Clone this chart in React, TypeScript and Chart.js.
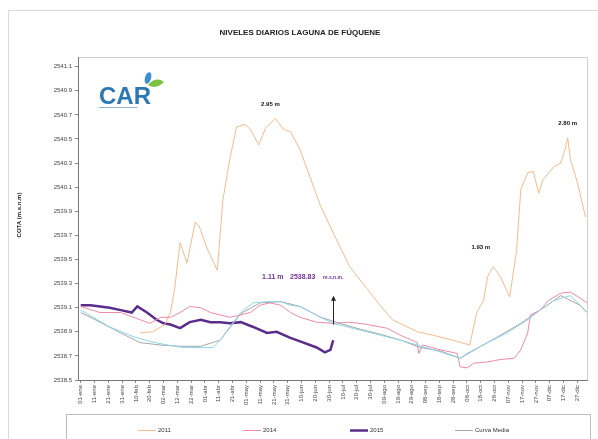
import React, { useEffect, useRef } from "react";
import { Chart, registerables } from "chart.js";

Chart.register(...registerables);

// ---- Axis data ----
const tickDays = [0, 10, 20, 30, 40, 50, 60, 70, 80, 90, 100, 110, 120, 130, 140, 150, 160, 170, 180, 190, 200, 210, 220, 230, 240, 250, 260, 270, 280, 290, 300, 310, 320, 330, 340, 350, 360];
const tickLabels = ["01-ene", "11-ene", "21-ene", "31-ene", "10-feb", "20-feb", "02-mar", "12-mar", "22-mar", "01-abr", "11-abr", "21-abr", "01-may", "11-may", "21-may", "31-may", "10-jun", "20-jun", "30-jun", "10-jul", "20-jul", "30-jul", "09-ago", "19-ago", "29-ago", "08-sep", "18-sep", "28-sep", "08-oct", "18-oct", "28-oct", "07-nov", "17-nov", "27-nov", "07-dic", "17-dic", "27-dic"];
const yTickValues = [2538.5, 2538.7, 2538.9, 2539.1, 2539.3, 2539.5, 2539.7, 2539.9, 2540.1, 2540.3, 2540.5, 2540.7, 2540.9, 2541.1];

// ---- Series ----
const dias2011 = [43, 52, 61, 65, 68, 72, 77, 83, 86, 92, 99, 103, 108, 113, 119, 123, 129, 134, 141, 147, 152, 159, 174, 183, 195, 208, 217, 226, 244, 256, 273, 282, 287, 292, 295, 299, 304, 311, 316, 319, 324, 328, 332, 335, 343, 348, 351, 353, 355, 360, 366];
const cota2011 = [2538.89, 2538.9, 2538.96, 2539.06, 2539.25, 2539.64, 2539.47, 2539.81, 2539.77, 2539.58, 2539.41, 2539.99, 2540.33, 2540.6, 2540.62, 2540.58, 2540.45, 2540.59, 2540.67, 2540.58, 2540.56, 2540.41, 2539.94, 2539.72, 2539.44, 2539.25, 2539.12, 2539.0, 2538.9, 2538.87, 2538.82, 2538.79, 2539.06, 2539.16, 2539.36, 2539.44, 2539.36, 2539.19, 2539.58, 2540.08, 2540.22, 2540.23, 2540.05, 2540.16, 2540.27, 2540.3, 2540.41, 2540.51, 2540.33, 2540.14, 2539.85];

const dias2014 = [0, 14, 29, 43, 50, 58, 65, 72, 79, 87, 94, 101, 108, 116, 123, 130, 137, 145, 152, 159, 171, 183, 195, 208, 222, 232, 244, 245, 248, 261, 273, 275, 280, 285, 295, 304, 314, 319, 324, 326, 333, 339, 348, 355, 362, 367];
const cota2014 = [2539.11, 2539.06, 2539.06, 2539.0, 2538.97, 2539.02, 2539.02, 2539.06, 2539.11, 2539.1, 2539.06, 2539.04, 2539.02, 2539.04, 2539.06, 2539.12, 2539.14, 2539.12, 2539.06, 2539.02, 2538.98, 2538.97, 2538.98, 2538.96, 2538.93, 2538.87, 2538.81, 2538.72, 2538.79, 2538.75, 2538.72, 2538.61, 2538.6, 2538.64, 2538.65, 2538.67, 2538.68, 2538.75, 2538.89, 2539.04, 2539.08, 2539.16, 2539.22, 2539.23, 2539.18, 2539.14];

const dias2015 = [0, 7, 14, 21, 29, 37, 41, 48, 55, 60, 65, 72, 79, 87, 94, 101, 108, 116, 125, 135, 142, 152, 159, 171, 177, 181, 183];
const cota2015 = [2539.12, 2539.12, 2539.11, 2539.1, 2539.08, 2539.06, 2539.11, 2539.06, 2539.0, 2538.97, 2538.96, 2538.93, 2538.98, 2539.0, 2538.98, 2538.98, 2538.97, 2538.98, 2538.94, 2538.89, 2538.9, 2538.85, 2538.82, 2538.77, 2538.73, 2538.75, 2538.83];

const diasMedia = [0, 14, 29, 43, 58, 72, 87, 101, 116, 130, 145, 159, 174, 188, 203, 217, 232, 246, 261, 275, 290, 304, 319, 333, 348, 362, 367];
const cotaMedia = [2539.06, 2538.98, 2538.89, 2538.81, 2538.79, 2538.78, 2538.78, 2538.83, 2539.05, 2539.14, 2539.15, 2539.11, 2539.02, 2538.97, 2538.92, 2538.88, 2538.83, 2538.77, 2538.74, 2538.68, 2538.78, 2538.87, 2538.97, 2539.08, 2539.2, 2539.12, 2539.06];

const diasOtro = [0, 21, 38, 50, 63, 74, 87, 96, 101, 108, 116, 125, 135, 145, 152, 159, 174, 183, 232, 256, 275, 280, 295, 309, 324, 333, 343, 355, 362, 367];
const cotaOtro = [2539.08, 2538.94, 2538.86, 2538.82, 2538.79, 2538.77, 2538.77, 2538.77, 2538.83, 2538.94, 2539.06, 2539.14, 2539.15, 2539.15, 2539.12, 2539.11, 2539.02, 2538.97, 2538.83, 2538.75, 2538.68, 2538.72, 2538.81, 2538.89, 2539.0, 2539.08, 2539.16, 2539.2, 2539.12, 2539.06];

const seriesLabels = ["2011", "2014", "2015", "Curva Media"];

// annotations (data space)
const notas = [
  { text: "2.95 m", x: 137.5, y: 2540.79 },
  { text: "1.93 m", x: 290, y: 2539.6 },
  { text: "2.80 m", x: 353, y: 2540.63 },
];
const notaActual = { nivel: "1.11 m", cota: "2538.83", unidad: "m.s.n.m.", x: 159, y: 2539.35 };
const flecha = { x: 183, y0: 2538.96, y1: 2539.2 };

const zip = (xs: number[], ys: number[]) => xs.map((x, i) => ({ x, y: ys[i] }));

const FONT = "'Liberation Sans', Arial, sans-serif";

const decorPlugin = {
  id: "decor",
  beforeDraw(chart: any) {
    const { ctx, chartArea: a } = chart;
    ctx.save();
    ctx.fillStyle = "#ffffff";
    ctx.fillRect(0, 0, chart.width, chart.height);
    ctx.strokeStyle = "#d9d9d9";
    ctx.lineWidth = 1;
    ctx.strokeRect(8.5, 10.5, 600, 460);
    ctx.strokeStyle = "#cfcfcf";
    ctx.beginPath();
    ctx.moveTo(a.left, a.top + 0.5);
    ctx.lineTo(a.right + 0.5, a.top + 0.5);
    ctx.lineTo(a.right + 0.5, a.bottom);
    ctx.stroke();
    ctx.restore();
  },
  afterDraw(chart: any) {
    const { ctx, scales } = chart;
    const xs = scales.x, ys = scales.y;
    ctx.save();
    // title
    ctx.fillStyle = "#222";
    ctx.font = `bold 8px ${FONT}`;
    ctx.textAlign = "center";
    ctx.textBaseline = "middle";
    ctx.fillText("NIVELES DIARIOS LAGUNA DE FÚQUENE", 300, 33);
    // y title
    ctx.save();
    ctx.translate(19, 215);
    ctx.rotate(-Math.PI / 2);
    ctx.font = `bold 6px ${FONT}`;
    ctx.fillText("COTA (m.s.n.m)", 0, 0);
    ctx.restore();
    // logo
    ctx.font = `bold 24px ${FONT}`;
    ctx.textAlign = "left";
    ctx.textBaseline = "alphabetic";
    ctx.fillStyle = "#2b78b5";
    ctx.fillText("CAR", 99, 104);
    ctx.fillStyle = "#3c8fd0";
    ctx.beginPath();
    ctx.ellipse(148, 78, 3, 6, 0.3, 0, Math.PI * 2);
    ctx.fill();
    ctx.fillStyle = "#7cc242";
    ctx.beginPath();
    ctx.moveTo(148, 85);
    ctx.quadraticCurveTo(156, 76, 164, 82);
    ctx.quadraticCurveTo(156, 90, 148, 85);
    ctx.fill();
    ctx.fillStyle = "#8fb4d0";
    ctx.fillRect(99, 107, 38, 1);
    // peak notes
    ctx.fillStyle = "#111";
    ctx.font = `bold 6px ${FONT}`;
    ctx.textAlign = "center";
    ctx.textBaseline = "middle";
    notas.forEach((n) => ctx.fillText(n.text, xs.getPixelForValue(n.x), ys.getPixelForValue(n.y)));
    // current level note
    const cx = xs.getPixelForValue(notaActual.x), cy = ys.getPixelForValue(notaActual.y);
    ctx.fillStyle = "#7030a0";
    ctx.textAlign = "left";
    ctx.font = `bold 7px ${FONT}`;
    ctx.fillText(notaActual.nivel, cx - 38, cy);
    ctx.fillText(notaActual.cota, cx - 10, cy);
    ctx.font = `bold 5px ${FONT}`;
    ctx.fillText(notaActual.unidad, cx + 23, cy);
    // arrow
    const ax = Math.round(xs.getPixelForValue(flecha.x)) + 0.5;
    const a0 = ys.getPixelForValue(flecha.y0), a1 = ys.getPixelForValue(flecha.y1);
    ctx.strokeStyle = "#222";
    ctx.fillStyle = "#222";
    ctx.lineWidth = 1;
    ctx.beginPath();
    ctx.moveTo(ax, a0);
    ctx.lineTo(ax, a1 + 3);
    ctx.stroke();
    ctx.beginPath();
    ctx.moveTo(ax, a1);
    ctx.lineTo(ax - 2.5, a1 + 5);
    ctx.lineTo(ax + 2.5, a1 + 5);
    ctx.closePath();
    ctx.fill();
    // legend box
    ctx.strokeStyle = "#bdbdbd";
    ctx.strokeRect(66.5, 414.5, 524, 60);
    const pos = [138, 243, 350, 455];
    ctx.font = `6px ${FONT}`;
    ctx.textBaseline = "middle";
    chart.data.datasets.forEach((ds: any) => {
      const idx = seriesLabels.indexOf(ds.label);
      if (idx < 0) return;
      const lx = pos[idx];
      ctx.strokeStyle = ds.borderColor;
      ctx.lineWidth = ds.borderWidth;
      ctx.beginPath();
      ctx.moveTo(lx, 430.5);
      ctx.lineTo(lx + 18, 430.5);
      ctx.stroke();
      ctx.fillStyle = "#333";
      ctx.textAlign = "left";
      ctx.fillText(ds.label, lx + 20, 430.5);
    });
    ctx.restore();
  },
};

export default function App() {
  const ref = useRef<HTMLCanvasElement | null>(null);
  useEffect(() => {
    if (!ref.current) return;
    const line = (label: string, data: any[], color: string, width: number) => ({
      label,
      data,
      borderColor: color,
      backgroundColor: color,
      borderWidth: width,
      pointRadius: 0,
      tension: 0,
      fill: false,
    });
    const chart = new Chart(ref.current, {
      type: "line",
      data: {
        datasets: [
          line("", zip(diasOtro, cotaOtro), "#8fd4ea", 1),
          line(seriesLabels[3], zip(diasMedia, cotaMedia), "#a6a6a6", 1),
          line(seriesLabels[1], zip(dias2014, cota2014), "#f08aa6", 1),
          line(seriesLabels[0], zip(dias2011, cota2011), "#f6bb8c", 1),
          line(seriesLabels[2], zip(dias2015, cota2015), "#5a2d8c", 2.5),
        ],
      },
      options: {
        responsive: false,
        animation: false,
        layout: { padding: { top: 57, right: 11, left: 0, bottom: 0 } },
        plugins: { legend: { display: false }, title: { display: false }, tooltip: { enabled: false } },
        scales: {
          x: {
            type: "linear",
            min: -2,
            max: 367,
            afterBuildTicks: (s: any) => { s.ticks = tickDays.map((v) => ({ value: v })); },
            afterFit: (s: any) => { s.height = 59; },
            ticks: {
              autoSkip: false,
              maxRotation: 90,
              minRotation: 90,
              padding: 2,
              color: "#444",
              font: { size: 6, family: FONT },
              callback: (_v: any, i: number) => tickLabels[i],
            },
            grid: { drawOnChartArea: false, tickLength: 3, color: "#888" },
            border: { color: "#777" },
          },
          y: {
            min: 2538.5,
            max: 2541.18,
            afterBuildTicks: (s: any) => { s.ticks = yTickValues.map((v) => ({ value: v })); },
            afterFit: (s: any) => { s.width = 78; },
            ticks: {
              padding: 3,
              color: "#444",
              font: { size: 6, family: FONT },
              callback: (v: any) => Number(v).toFixed(1),
            },
            grid: { drawOnChartArea: false, tickLength: 3, color: "#888" },
            border: { color: "#777" },
          },
        },
      },
      plugins: [decorPlugin],
    });
    return () => chart.destroy();
  }, []);
  return (
    <div style={{ position: "absolute", left: 0, top: 0, width: 598, height: 439 }}>
      <canvas ref={ref} width={598} height={439} style={{ width: 598, height: 439, display: "block" }} />
    </div>
  );
}
